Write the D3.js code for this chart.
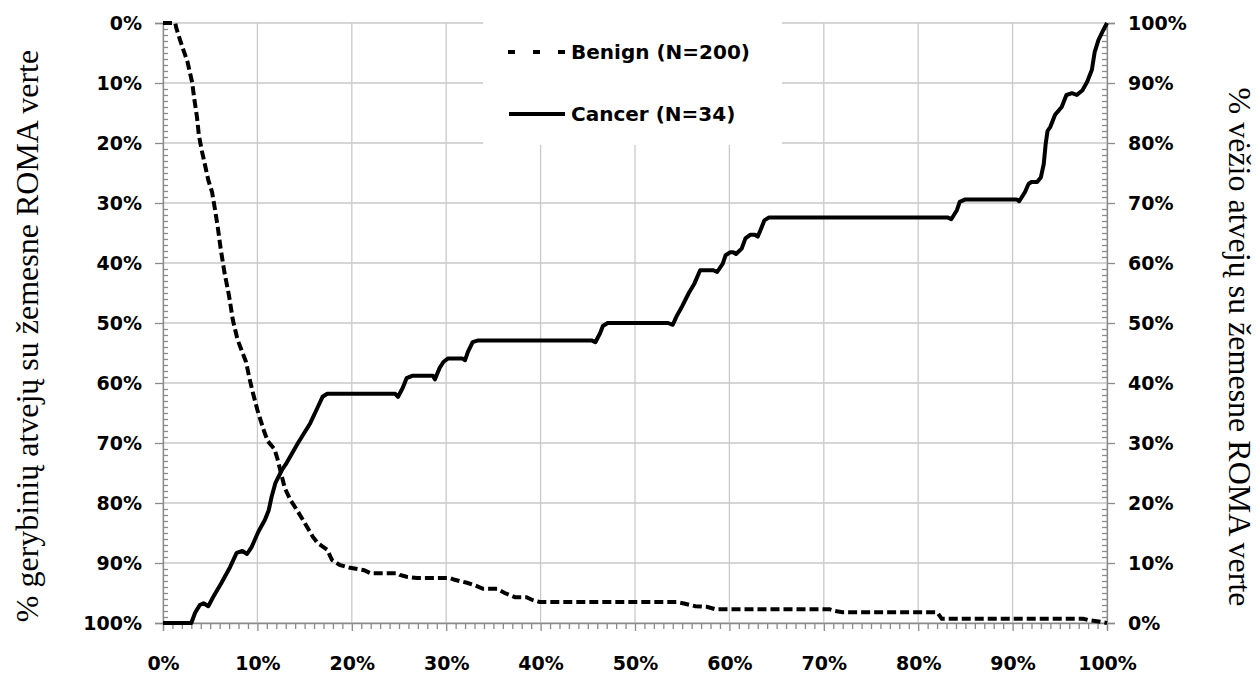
<!DOCTYPE html>
<html>
<head>
<meta charset="utf-8">
<script src="https://cdn.jsdelivr.net/npm/d3@7"></script>
<style>
  body { margin: 0; background: #fff; }
  .tick text { font-family: "DejaVu Sans", sans-serif; font-weight: bold; font-size: 19px; fill: #000; }
  .title { font-family: "Liberation Serif", "Times New Roman", serif; font-size: 32px; fill: #000; }
  .legend text { font-family: "DejaVu Sans", sans-serif; font-weight: bold; font-size: 20px; fill: #000; }
</style>
</head>
<body>
<div id="chart"></div>
<script>
// tick values (fractions) shared by all three axes
var majorTicks = [0, 0.1, 0.2, 0.3, 0.4, 0.5, 0.6, 0.7, 0.8, 0.9, 1];
var minorTicks = d3.range(0, 101).filter(d => d % 10 !== 0).map(d => d / 100);

// Benign (N=200): x = percent position, y = % benign cases below (left axis, reversed)
var benignX = [0, 1.3, 1.4, 1.8, 2.1, 2.6, 3.1, 3.3, 3.6, 3.8, 4.1, 4.4, 4.8, 5.2, 5.5, 5.8, 6.1, 6.5, 7.0, 7.4,
               7.9, 8.8, 9.1, 9.5, 10, 10.7, 11.1, 11.8, 12.1, 12.5, 12.9, 13.5, 14.2, 15, 15.9, 16.4, 17.4, 17.9, 18.7, 19.8,
               21.3, 22, 24.8, 25.1, 25.8, 26.9, 30.4, 30.9, 32.2, 33, 33.9, 35.4, 36.2, 37.3, 38.5, 39.2, 39.9, 54.4, 55.3, 56.4,
               57.6, 58.5, 70.6, 71.2, 72, 82, 82.5, 97.5, 98, 99.3, 100];
var benignY = [0, 0, 0.8, 2.8, 4.2, 6.5, 10, 12.5, 15.7, 18.7, 21.2, 23.3, 26.2, 28.2, 31, 34, 37.5, 41.5, 45.5, 49.5,
               52.8, 56.5, 58.8, 61.5, 64.5, 68, 69.7, 71, 72.5, 75, 77.5, 79.5, 81.2, 83.3, 85.7, 86.7, 87.8, 89.5, 90.3, 90.8,
               91.2, 91.7, 91.7, 92, 92.3, 92.5, 92.5, 92.8, 93.3, 93.7, 94.3, 94.3, 95, 95.7, 95.7, 96.2, 96.5, 96.5, 96.8, 97.2,
               97.3, 97.7, 97.7, 98, 98.2, 98.2, 99.3, 99.3, 99.5, 99.8, 100];

// Cancer (N=34): y = % cancer cases below (right axis)
var cancerX = [0, 3.0, 3.4, 3.9, 4.3, 4.8, 5.3, 6.2, 7.1, 7.8, 8.4, 8.9, 9.4, 10.1, 10.8, 11.2, 11.5, 11.9, 12.6, 13.1,
               14.3, 15.6, 16.4, 16.9, 17.4, 24.6, 24.9, 25.4, 25.8, 26.4, 28.6, 28.8, 29.3, 29.7, 30.2, 31.7, 32.0, 32.3, 32.8, 33.4,
               45.4, 45.8, 46.3, 46.6, 47.1, 53.5, 54.0, 54.4, 55, 55.7, 56.3, 56.9, 58.3, 58.7, 59.3, 59.6, 60.1, 60.4, 60.7, 61.3,
               61.7, 62.2, 62.7, 63.0, 63.3, 63.7, 64.2, 83.1, 83.5, 84.1, 84.4, 85, 90.4, 90.7, 91.3, 91.7, 92, 92.6, 93.0, 93.3,
               93.5, 93.7, 94.0, 94.5, 95.2, 95.7, 96.3, 96.8, 97.4, 97.9, 98.4, 98.7, 99.1, 99.6, 100];
var cancerY = [0, 0, 1.7, 3.0, 3.3, 2.8, 4.3, 6.7, 9.3, 11.7, 12.0, 11.5, 12.7, 15.2, 17.2, 18.8, 21, 23.3, 25.5, 26.7,
               30, 33.3, 36, 37.7, 38.2, 38.2, 37.7, 39.2, 40.8, 41.2, 41.2, 40.6, 42.5, 43.5, 44.1, 44.1, 43.8, 45.2, 46.8, 47.1,
               47.1, 46.8, 48.3, 49.5, 50, 50, 49.7, 51.1, 52.8, 55, 56.6, 58.8, 58.8, 58.5, 59.9, 61.3, 61.8, 61.8, 61.5, 62.4,
               64.1, 64.7, 64.7, 64.4, 65.5, 67.1, 67.6, 67.6, 67.3, 68.8, 70.2, 70.6, 70.6, 70.3, 71.8, 73.2, 73.5, 73.5, 74.3, 76.5,
               79.8, 82, 82.7, 84.7, 86, 88, 88.3, 88, 88.8, 90.2, 92.2, 95.2, 97.2, 98.8, 100];

var seriesNames = ["Benign (N=200)", "Cancer (N=34)"];

var w = 1260;
var h = 675;
var margin = { top: 23, right: 153, bottom: 52, left: 163 };

var xscale = d3.scaleLinear().domain([0, 1]).range([margin.left, w - margin.right]);
var yLeft = d3.scaleLinear().domain([0, 1]).range([margin.top, h - margin.bottom]);   // 0% at top
var yRight = d3.scaleLinear().domain([0, 1]).range([h - margin.bottom, margin.top]);  // 0% at bottom

var svg = d3.select("#chart")
            .append("svg")
            .attr("width", w)
            .attr("height", h);

var pct = d3.format(".0%");
var gridColor = "#c9c9c9";
var axisColor = "#8a8a8a";

// gridlines
svg.append("g")
   .selectAll("line")
   .data(majorTicks)
   .enter()
   .append("line")
   .attr("x1", d => xscale(d))
   .attr("x2", d => xscale(d))
   .attr("y1", margin.top)
   .attr("y2", h - margin.bottom)
   .attr("stroke", gridColor)
   .attr("stroke-width", 1.3);

svg.append("g")
   .selectAll("line")
   .data(majorTicks)
   .enter()
   .append("line")
   .attr("x1", margin.left)
   .attr("x2", w - margin.right)
   .attr("y1", d => yLeft(d))
   .attr("y2", d => yLeft(d))
   .attr("stroke", gridColor)
   .attr("stroke-width", 1.3);

// legend background hides the gridlines behind it
svg.append("rect")
   .attr("x", 483)
   .attr("y", margin.top - 2)
   .attr("width", 299)
   .attr("height", 124)
   .attr("fill", "#fff");

function styleAxis(g) {
    g.select(".domain").attr("stroke", axisColor).attr("stroke-width", 1.3);
    g.selectAll(".tick line").attr("stroke", axisColor).attr("stroke-width", 1.3);
}

// left axis (benign)
svg.append("g")
   .attr("transform", `translate(${margin.left}, 0)`)
   .call(d3.axisLeft(yLeft).tickValues(majorTicks).tickFormat(pct).tickSize(8).tickPadding(13))
   .call(styleAxis);

svg.append("g")
   .attr("transform", `translate(${margin.left}, 0)`)
   .call(d3.axisRight(yLeft).tickValues(minorTicks).tickFormat("").tickSize(5))
   .call(styleAxis)
   .select(".domain").remove();

// right axis (cancer)
svg.append("g")
   .attr("transform", `translate(${w - margin.right}, 0)`)
   .call(d3.axisRight(yRight).tickValues(majorTicks).tickFormat(pct).tickSize(8).tickPadding(13))
   .call(styleAxis);

svg.append("g")
   .attr("transform", `translate(${w - margin.right}, 0)`)
   .call(d3.axisLeft(yRight).tickValues(minorTicks).tickFormat("").tickSize(5))
   .call(styleAxis)
   .select(".domain").remove();

// bottom axis
svg.append("g")
   .attr("transform", `translate(0, ${h - margin.bottom})`)
   .call(d3.axisBottom(xscale).tickValues(majorTicks).tickFormat(pct).tickSize(8).tickPadding(26))
   .call(styleAxis);

svg.append("g")
   .attr("transform", `translate(0, ${h - margin.bottom})`)
   .call(d3.axisBottom(xscale).tickValues(minorTicks).tickFormat("").tickSize(6))
   .call(styleAxis)
   .select(".domain").remove();

// curves
var benignLine = d3.line()
    .x(d => xscale(d[0] / 100))
    .y(d => yLeft(d[1] / 100));

var cancerLine = d3.line()
    .x(d => xscale(d[0] / 100))
    .y(d => yRight(d[1] / 100));

svg.append("path")
   .datum(benignX.map((x, i) => [x, benignY[i]]))
   .attr("d", benignLine)
   .attr("fill", "none")
   .attr("stroke", "#000")
   .attr("stroke-width", 4)
   .attr("stroke-dasharray", "9,4");

svg.append("path")
   .datum(cancerX.map((x, i) => [x, cancerY[i]]))
   .attr("d", cancerLine)
   .attr("fill", "none")
   .attr("stroke", "#000")
   .attr("stroke-width", 4)
   .attr("stroke-linejoin", "round");

// legend
var legend = svg.append("g").attr("class", "legend");

legend.append("line")
      .attr("x1", 508).attr("x2", 565)
      .attr("y1", 52).attr("y2", 52)
      .attr("stroke", "#000")
      .attr("stroke-width", 4)
      .attr("stroke-dasharray", "7,18");

legend.append("line")
      .attr("x1", 509).attr("x2", 565)
      .attr("y1", 114).attr("y2", 114)
      .attr("stroke", "#000")
      .attr("stroke-width", 4);

legend.selectAll("text")
      .data(seriesNames)
      .enter()
      .append("text")
      .attr("x", 571)
      .attr("y", (d, i) => 52 + i * 62)
      .attr("dy", "0.36em")
      .text(d => d);

// axis titles
svg.append("text")
   .attr("class", "title")
   .attr("transform", "translate(38, 336) rotate(-90)")
   .attr("text-anchor", "middle")
   .text("% gerybinių atvejų su žemesne ROMA verte");

svg.append("text")
   .attr("class", "title")
   .attr("transform", "translate(1229, 347) rotate(90)")
   .attr("text-anchor", "middle")
   .text("% vėžio atvejų su žemesne ROMA verte");
</script>
</body>
</html>
